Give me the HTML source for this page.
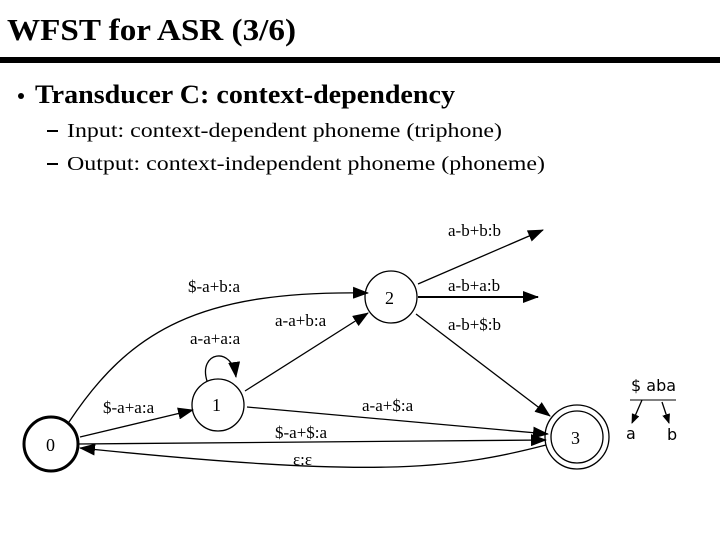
<!DOCTYPE html>
<html><head><meta charset="utf-8"><style>
html,body{margin:0;padding:0;background:#fff;}
svg{display:block;}
</style></head><body>
<svg width="720" height="540" viewBox="0 0 720 540" xmlns="http://www.w3.org/2000/svg">
<defs>
<marker id="ah" markerWidth="10" markerHeight="8" refX="9" refY="4" orient="auto" markerUnits="userSpaceOnUse" viewBox="0 0 10 8">
<path d="M0,0 L10,4 L0,8 z" fill="#000"/>
</marker>
<marker id="ahb" markerWidth="16" markerHeight="12" refX="15" refY="6" orient="auto" markerUnits="userSpaceOnUse" viewBox="0 0 16 12">
<path d="M0,0 L16,6 L0,12 z" fill="#000"/>
</marker>
</defs>
<g font-family="Liberation Serif, serif" fill="#000">
<text x="7" y="40" font-size="31" font-weight="bold" textLength="289" lengthAdjust="spacingAndGlyphs">WFST for ASR (3/6)</text>
<rect x="0" y="57" width="720" height="6" fill="#000"/>
<circle cx="21" cy="96" r="3"/>
<text x="35" y="103" font-size="26" font-weight="bold" textLength="420" lengthAdjust="spacingAndGlyphs">Transducer C: context-dependency</text>
<rect x="47" y="130" width="11" height="2"/>
<text x="67" y="137" font-size="20" textLength="435" lengthAdjust="spacingAndGlyphs">Input: context-dependent phoneme (triphone)</text>
<rect x="47" y="163" width="11" height="2"/>
<text x="67" y="170" font-size="20" textLength="478" lengthAdjust="spacingAndGlyphs">Output: context-independent phoneme (phoneme)</text>
</g>
<g fill="none" stroke="#000" stroke-width="1.3">
<circle cx="51" cy="444" r="27" stroke-width="3"/>
<circle cx="218" cy="405" r="26"/>
<circle cx="391" cy="297" r="26"/>
<circle cx="577" cy="437" r="32"/>
<circle cx="577" cy="437" r="26"/>
<path d="M69,422 C130,330 200,290 368,293" marker-end="url(#ahb)"/>
<path d="M245,391 L368,313" marker-end="url(#ahb)"/>
<path d="M207,381 C198,352 232,345 236,377" marker-end="url(#ahb)"/>
<path d="M80,437 L193,410" marker-end="url(#ahb)"/>
<path d="M247,407 L548,434" marker-end="url(#ahb)"/>
<path d="M78,444 L546,440" marker-end="url(#ahb)"/>
<path d="M546,445 C450,470 370,478 80,448" marker-end="url(#ahb)"/>
<path d="M418,284 L543,230" marker-end="url(#ahb)"/>
<path d="M418,297 L538,297" stroke-width="2" marker-end="url(#ahb)"/>
<path d="M416,314 L550,416" marker-end="url(#ahb)"/>
<path d="M630,400 L676,400" stroke-width="1"/>
<path d="M642,400 L632,423" marker-end="url(#ah)"/>
<path d="M662,402 L669,423" marker-end="url(#ah)"/>
</g>
<g font-family="Liberation Serif, serif" font-size="17" fill="#000">
<text x="188" y="292">$-a+b:a</text>
<text x="275" y="326">a-a+b:a</text>
<text x="190" y="344">a-a+a:a</text>
<text x="103" y="413">$-a+a:a</text>
<text x="212" y="411" font-size="18">1</text>
<text x="46" y="451" font-size="18">0</text>
<text x="385" y="304" font-size="18">2</text>
<text x="571" y="444" font-size="18">3</text>
<text x="362" y="411">a-a+$:a</text>
<text x="275" y="438">$-a+$:a</text>
<text x="293" y="465">ε:ε</text>
<text x="448" y="236">a-b+b:b</text>
<text x="448" y="291">a-b+a:b</text>
<text x="448" y="330">a-b+$:b</text>
</g>
<g font-family="DejaVu Sans, sans-serif" font-size="16" fill="#000">
<text x="631" y="391">$ aba</text>
<text x="626" y="439">a</text>
<text x="667" y="440">b</text>
</g>
</svg>
</body></html>
